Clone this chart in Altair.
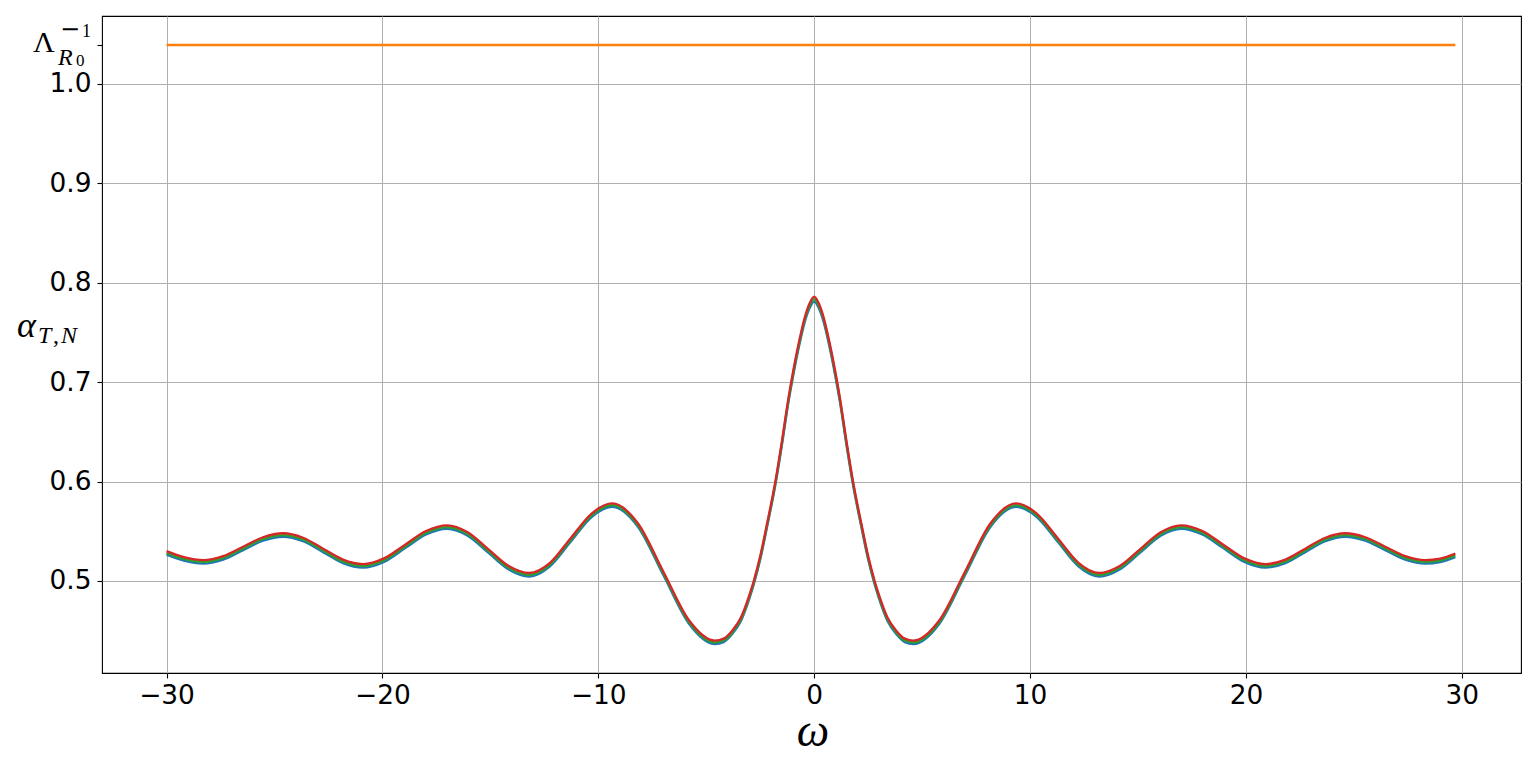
import altair as alt
import pandas as pd

# ---- data ----
OMEGA = [-30.0, -29.2, -28.3, -27.38, -26.45, -25.53, -24.6, -23.68, -22.75, -21.83,
         -20.9, -19.93, -18.95, -17.98, -17.0, -16.05, -15.1, -14.15, -13.2, -12.24,
         -11.28, -10.31, -9.35, -8.16, -6.98, -5.79, -4.6, -4.2, -3.8, -3.4,
         -3.0, -2.8, -2.5, -2.2, -1.8, -1.5, -1.2, -1.0, -0.7, -0.4, -0.2, 0.0,
         0.2, 0.4, 0.7, 1.0, 1.2, 1.5, 1.8, 2.2, 2.5, 2.8, 3.0, 3.4, 3.8, 4.2, 4.6,
         5.79, 6.98, 8.16, 9.35, 10.31, 11.28, 12.24, 13.2, 14.15, 15.1, 16.05, 17.0,
         17.98, 18.95, 19.93, 20.9, 21.83, 22.75, 23.68, 24.6, 25.53, 26.45, 27.38,
         28.3, 29.0, 29.7]

ALPHA_BLUE = [0.5265, 0.5205, 0.5175, 0.5215, 0.5310, 0.5405, 0.5445, 0.5400, 0.5290, 0.5180,
              0.5135, 0.5192, 0.5330, 0.5468, 0.5525, 0.5455, 0.5285, 0.5115, 0.5045, 0.5148,
              0.5395, 0.5643, 0.5745, 0.5543, 0.5055, 0.4567, 0.4365, 0.4385, 0.4465, 0.4595,
              0.4825, 0.4965, 0.5215, 0.5525, 0.5965, 0.6360, 0.6790, 0.7035, 0.7365, 0.7635,
              0.7752, 0.7810,
              0.7752, 0.7635, 0.7365, 0.7035, 0.6790, 0.6360, 0.5965, 0.5525, 0.5215, 0.4965,
              0.4825, 0.4595, 0.4465, 0.4385, 0.4365, 0.4567, 0.5055, 0.5543, 0.5745, 0.5643,
              0.5395, 0.5148, 0.5045, 0.5115, 0.5285, 0.5455, 0.5525, 0.5468, 0.5330, 0.5192,
              0.5135, 0.5180, 0.5290, 0.5400, 0.5445, 0.5405, 0.5310, 0.5215, 0.5175, 0.5190,
              0.5240]

ALPHA_GREEN = [0.5282, 0.5222, 0.5192, 0.5232, 0.5327, 0.5422, 0.5462, 0.5417, 0.5307, 0.5197,
               0.5152, 0.5209, 0.5347, 0.5485, 0.5542, 0.5472, 0.5302, 0.5132, 0.5062, 0.5165,
               0.5412, 0.5660, 0.5762, 0.5560, 0.5072, 0.4584, 0.4382, 0.4402, 0.4482, 0.4612,
               0.4842, 0.4982, 0.5232, 0.5542, 0.5982, 0.6380, 0.6810, 0.7058, 0.7388, 0.7658,
               0.7776, 0.7835,
               0.7776, 0.7658, 0.7388, 0.7058, 0.6810, 0.6380, 0.5982, 0.5542, 0.5232, 0.4982,
               0.4842, 0.4612, 0.4482, 0.4402, 0.4382, 0.4584, 0.5072, 0.5560, 0.5762, 0.5660,
               0.5412, 0.5165, 0.5062, 0.5132, 0.5302, 0.5472, 0.5542, 0.5485, 0.5347, 0.5209,
               0.5152, 0.5197, 0.5307, 0.5417, 0.5462, 0.5422, 0.5327, 0.5232, 0.5192, 0.5207,
               0.5257]

ALPHA_RED = [0.5300, 0.5240, 0.5210, 0.5250, 0.5345, 0.5440, 0.5480, 0.5435, 0.5325, 0.5215,
             0.5170, 0.5227, 0.5365, 0.5503, 0.5560, 0.5490, 0.5320, 0.5150, 0.5080, 0.5183,
             0.5430, 0.5678, 0.5780, 0.5578, 0.5090, 0.4602, 0.4400, 0.4420, 0.4500, 0.4630,
             0.4860, 0.5000, 0.5250, 0.5560, 0.6000, 0.6400, 0.6830, 0.7080, 0.7410, 0.7680,
             0.7800, 0.7860,
             0.7800, 0.7680, 0.7410, 0.7080, 0.6830, 0.6400, 0.6000, 0.5560, 0.5250, 0.5000,
             0.4860, 0.4630, 0.4500, 0.4420, 0.4400, 0.4602, 0.5090, 0.5578, 0.5780, 0.5678,
             0.5430, 0.5183, 0.5080, 0.5150, 0.5320, 0.5490, 0.5560, 0.5503, 0.5365, 0.5227,
             0.5170, 0.5215, 0.5325, 0.5435, 0.5480, 0.5440, 0.5345, 0.5250, 0.5210, 0.5225,
             0.5275]

LAMBDA_INV = 1.0392
ORANGE_X = [-30.0, 29.7]

X_TICKS = [-30, -20, -10, 0, 10, 20, 30]
Y_TICKS = [0.5, 0.6, 0.7, 0.8, 0.9, 1.0]
X_DOMAIN = [-32.99, 32.74]
Y_DOMAIN = [0.4074, 1.0684]

COLORS = {"blue": "#1f77b4", "orange": "#ff7f0e", "green": "#2ca02c", "red": "#d62728"}

W, H = 1419, 657
MATH_FONT = "Liberation Serif"

x_scale = alt.Scale(domain=X_DOMAIN, nice=False, zero=False)
y_scale = alt.Scale(domain=Y_DOMAIN, nice=False, zero=False)

x_axis = alt.Axis(values=X_TICKS, title=None, grid=True,
                  labelExpr="replace(format(datum.value, 'd'), '-', '\u2212')")
y_axis = alt.Axis(values=Y_TICKS + [LAMBDA_INV], title=None, grid=True,
                  labelExpr="datum.value > 1.01 ? '' : format(datum.value, '.1f')",
                  gridOpacity=alt.condition("datum.value > 1.01", alt.value(0), alt.value(1)))


def curve(values, color):
    df = pd.DataFrame({"omega": OMEGA, "alpha": values})
    return alt.Chart(df).mark_line(color=color, strokeWidth=2.3, interpolate="monotone",
                                   clip=True).encode(
        x=alt.X("omega:Q", scale=x_scale, axis=x_axis),
        y=alt.Y("alpha:Q", scale=y_scale, axis=y_axis),
    )


orange_df = pd.DataFrame({"omega": ORANGE_X, "alpha": [LAMBDA_INV, LAMBDA_INV]})
orange = alt.Chart(orange_df).mark_line(color=COLORS["orange"], strokeWidth=2.3).encode(
    x=alt.X("omega:Q", scale=x_scale, axis=x_axis),
    y=alt.Y("alpha:Q", scale=y_scale, axis=y_axis),
)

# ---- math-style labels (Λ_{R0}^{-1} tick label) ----
lam_df = pd.DataFrame({
    "txt": ["\u039b", "\u2212", "1", "R", "0"],
    "alpha": [LAMBDA_INV] * 5,
    "px": [-69, -42, -20, -44, -26],
    "dy": [7, -8, -8, 20, 21],
    "size": [30, 24, 18, 24, 17],
    "style": ["normal", "normal", "normal", "italic", "normal"],
    "font": [MATH_FONT, "DejaVu Sans", MATH_FONT, MATH_FONT, MATH_FONT],
})


def lam_piece(i):
    row = lam_df.iloc[[i]]
    return alt.Chart(row).mark_text(
        align="left", baseline="alphabetic", font=row["font"].iloc[0],
        fontSize=int(row["size"].iloc[0]), fontStyle=row["style"].iloc[0],
        dy=int(row["dy"].iloc[0]), color="black", clip=False,
    ).encode(
        x=alt.value(int(row["px"].iloc[0])),
        y=alt.Y("alpha:Q", scale=y_scale),
        text="txt:N",
    )


# ---- y label α_{T,N} ----
ylab_df = pd.DataFrame({"txt": ["\u03b1", "T", ",", "N"],
                        "px": [-85, -64, -49, -41], "py": [321, 327, 327, 327],
                        "size": [36, 24, 24, 24],
                        "style": ["italic", "italic", "normal", "italic"]})


def ylab_piece(i):
    row = ylab_df.iloc[[i]]
    return alt.Chart(row).mark_text(
        align="left", baseline="alphabetic", font=MATH_FONT,
        fontStyle=row["style"].iloc[0],
        fontSize=int(row["size"].iloc[0]), color="black", clip=False,
    ).encode(
        x=alt.value(int(row["px"].iloc[0])),
        y=alt.value(int(row["py"].iloc[0])),
        text="txt:N",
    )


xlab_df = pd.DataFrame({"txt": ["\u03c9"]})
xlab = alt.Chart(xlab_df).mark_text(
    align="center", baseline="alphabetic", font=MATH_FONT, fontStyle="italic",
    fontSize=46, color="black", clip=False,
).encode(x=alt.value(711), y=alt.value(730), text="txt:N")

chart = alt.layer(
    curve(ALPHA_BLUE, COLORS["blue"]),
    orange,
    curve(ALPHA_GREEN, COLORS["green"]),
    curve(ALPHA_RED, COLORS["red"]),
    *[lam_piece(i) for i in range(len(lam_df))],
    *[ylab_piece(i) for i in range(len(ylab_df))],
    xlab,
).properties(
    width=W, height=H,
    autosize=alt.AutoSizeParams(type="none"),
    padding={"left": 94, "top": 8, "right": 7, "bottom": 78},
).configure_view(
    stroke="black", strokeWidth=1.1,
).configure_axis(
    domain=False,
    gridColor="#b0b0b0", gridWidth=1.0,
    tickColor="black", tickSize=5, tickWidth=1.1,
    labelFont="DejaVu Sans", labelFontSize=26.4, labelColor="black",
    labelPadding=4,
).configure_axisY(labelPadding=6)

chart.save("out.html", embed_options={"renderer": "svg", "actions": False})
